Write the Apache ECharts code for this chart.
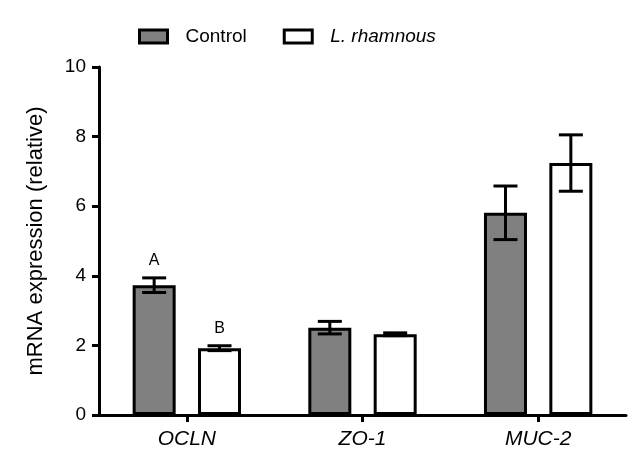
<!DOCTYPE html>
<html>
<head>
<meta charset="utf-8">
<script src="https://cdn.jsdelivr.net/npm/echarts@6/dist/echarts.min.js"></script>
<style>html,body{margin:0;padding:0;background:#fff}#c{width:644px;height:475px}</style>
</head>
<body>
<div id="c"></div>
<script>
// ---- data ----
const categories = ['OCLN', 'ZO-1', 'MUC-2'];
const seriesNames = ['Control', 'L. rhamnous'];
const controlMean = [3.73, 2.51, 5.81];
const controlErr = [0.21, 0.18, 0.77];
const rhamMean = [1.92, 2.32, 7.24];
const rhamErr = [0.07, 0.04, 0.81];
const controlMarks = ['A', '', ''];
const rhamMarks = ['B', '', ''];
const yTicks = [0, 2, 4, 6, 8, 10];

// ---- style / layout ----
const FONT = 'Liberation Sans, Arial, sans-serif';
const BAR_W = 43;
const BAR_GAP = 0.52;
const OFFSET = BAR_W * (1 + BAR_GAP) / 2;

function errSeries(name, means, errs, marks, dir) {
  return {
    type: 'custom',
    name: name + ' err',
    z: 5,
    silent: true,
    data: means.map((m, i) => [i, m, errs[i]]),
    renderItem: function (params, api) {
      const i = api.value(0), m = api.value(1), e = api.value(2);
      const mark = marks[i];
      const hi = api.coord([i, m + e]);
      const lo = api.coord([i, m - e]);
      const x = hi[0] + dir * OFFSET;
      const cw = 12;
      const st = { stroke: '#000', lineWidth: 3 };
      const children = [
        { type: 'line', shape: { x1: x, y1: hi[1], x2: x, y2: lo[1] }, style: st },
        { type: 'line', shape: { x1: x - cw, y1: hi[1], x2: x + cw, y2: hi[1] }, style: st },
        { type: 'line', shape: { x1: x - cw, y1: lo[1], x2: x + cw, y2: lo[1] }, style: st }
      ];
      if (mark) {
        children.push({
          type: 'text',
          style: { text: mark, x: x, y: hi[1] - 9, align: 'center', verticalAlign: 'bottom',
                   fill: '#000', font: '16px ' + FONT }
        });
      }
      return { type: 'group', children: children };
    }
  };
}

const chart = echarts.init(document.getElementById('c'), null, { renderer: 'canvas' });
chart.setOption({
  animation: false,
  backgroundColor: '#fff',
  textStyle: { fontFamily: FONT },
  grid: { left: 99, right: 18, top: 67, bottom: 60 },
  legend: {
    data: [
      { name: seriesNames[0] },
      { name: seriesNames[1], textStyle: { fontStyle: 'italic' } }
    ],
    icon: 'rect',
    padding: 0,
    left: 138, top: 27,
    itemWidth: 28, itemHeight: 13, itemGap: 36,
    itemStyle: { borderColor: '#000', borderWidth: 3 },
    textStyle: { fontSize: 19, color: '#000', fontFamily: FONT, padding: [0, 0, 0, 13] }
  },
  xAxis: {
    type: 'category',
    data: categories,
    axisLine: { lineStyle: { color: '#000', width: 3 } },
    axisTick: { show: true, alignWithLabel: true, length: 7, lineStyle: { color: '#000', width: 3 } },
    axisLabel: { color: '#000', fontSize: 21, fontStyle: 'italic', fontFamily: FONT, margin: 14 }
  },
  yAxis: {
    type: 'value',
    min: 0, max: 10, interval: 2,
    name: 'mRNA expression (relative)',
    nameLocation: 'middle',
    nameGap: 52,
    nameTextStyle: { color: '#000', fontSize: 22, fontFamily: FONT },
    splitLine: { show: false },
    axisLine: { show: true, lineStyle: { color: '#000', width: 3 } },
    axisTick: { show: true, length: 7, lineStyle: { color: '#000', width: 3 } },
    axisLabel: { color: '#000', fontSize: 19, fontFamily: FONT, margin: 13,
                 formatter: function (v) { return yTicks.indexOf(v) >= 0 ? String(v) : ''; } }
  },
  series: [
    {
      name: seriesNames[0], type: 'bar', data: controlMean,
      barWidth: BAR_W, barGap: (BAR_GAP * 100) + '%',
      itemStyle: { color: '#808080', borderColor: '#000', borderWidth: 3 }
    },
    {
      name: seriesNames[1], type: 'bar', data: rhamMean,
      barWidth: BAR_W, barGap: (BAR_GAP * 100) + '%',
      itemStyle: { color: '#ffffff', borderColor: '#000', borderWidth: 3 }
    },
    errSeries(seriesNames[0], controlMean, controlErr, controlMarks, -1),
    errSeries(seriesNames[1], rhamMean, rhamErr, rhamMarks, 1)
  ]
});
</script>
</body>
</html>
